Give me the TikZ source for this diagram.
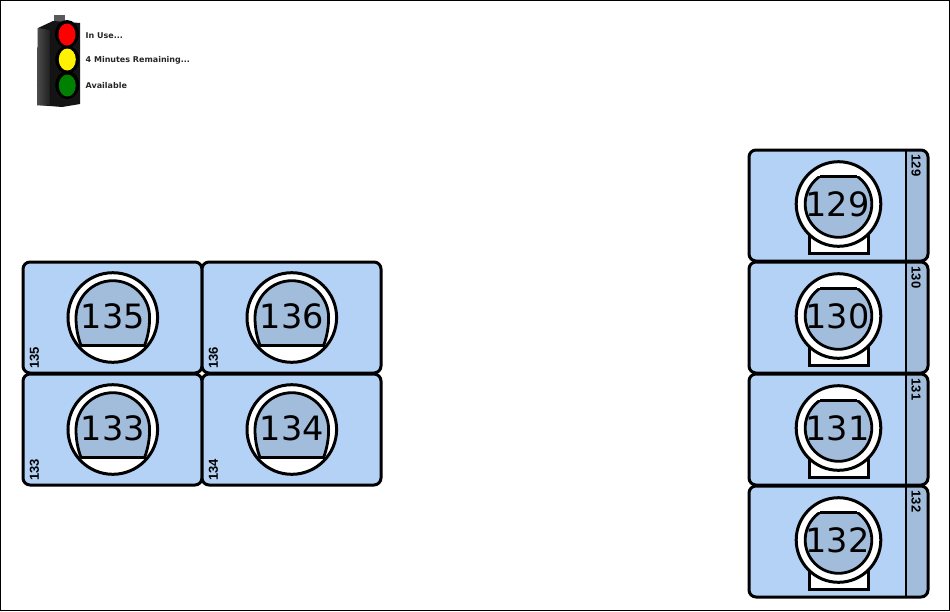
\documentclass[tikz,border=0pt]{standalone}
\usepackage{fontspec}
\setmainfont{DejaVu Sans}
\newfontfamily\smallfont{Liberation Sans}
\definecolor{cardblue}{HTML}{B3D2F6}
\definecolor{seatblue}{HTML}{A2BDDC}
\tikzset{
  x=1pt,y=-1pt,
  card/.style={draw=black,line width=3pt,rounded corners=7pt,fill=cardblue},
  ring/.style={draw=black,line width=3pt,fill=white},
  edgeline/.style={draw=black,line width=2.8pt},
  bignum/.style={inner sep=0pt,font=\fontsize{33.5}{34}\selectfont,text=black},
  sidenum/.style={inner sep=0pt,font=\smallfont\bfseries\fontsize{13}{13}\selectfont,text=black},
  legend/.style={inner sep=0pt,anchor=west,font=\bfseries\fontsize{8}{9}\selectfont,text=black!85},
}
\newcommand{\leftroom}[3]{%
  % #1 number, #2 left, #3 top
  \begin{scope}[shift={(#2,#3)}]
    \draw[card] (0,0) rectangle (179,111);
    \draw[ring] (89.8,55.5) circle (44.8);
    \draw[edgeline,fill=seatblue,line join=round] (58,83.5) .. controls (54.5,74) and (53,65) .. (53,55.5)
      .. controls (53,35.2) and (69.5,18.7) .. (89.8,18.7)
      .. controls (110.1,18.7) and (126.6,35.2) .. (126.6,55.5)
      .. controls (126.6,65) and (125.1,74) .. (121.6,83.5) -- cycle;
    \node[bignum] (big#1) at (89.8,54) {#1};
    \node[sidenum,rotate=90] (side#1) at (11.5,96) {#1};
  \end{scope}}
\newcommand{\rightroom}[2]{%
  % #1 number, #2 top
  \begin{scope}[shift={(749,#2)}]
    \begin{scope}
      \clip[rounded corners=7pt] (0,0) rectangle (179,111);
      \fill[cardblue] (0,0) rectangle (157,111);
      \fill[seatblue] (157,0) rectangle (179,111);
    \end{scope}
    \draw[edgeline] (157,0) -- (157,111);
    \draw[card,fill=none] (0,0) rectangle (179,111);
    \draw[ring] (60.5,80) rectangle (119,103);
    \draw[ring] (89.5,54) circle (42.3);
    \begin{scope}
      \clip (40,26.5) rectangle (140,100);
      \fill[seatblue] (89.5,54) circle (33.3);
      \draw[edgeline] (89.5,54) circle (33.3);
    \end{scope}
    \draw[edgeline] (71,26.5) -- (108,26.5);
    \node[bignum] (big#1) at (88.5,54) {#1};
    \node[sidenum,rotate=-90] (side#1) at (167,15.5) {#1};
  \end{scope}}
\begin{document}
\begin{tikzpicture}
  \useasboundingbox (0,0) rectangle (950,611);
  \draw[black,line width=1.5pt] (0.7,0.7) rectangle (949.3,610.3);
  % traffic light
  \fill[black!65] (53.5,15) rectangle (65,26);
  \fill[black!92] (38,28) -- (53,21) -- (80,23) -- (80,104) -- (62,107) -- (37,105) -- cycle;
  \fill[left color=black!70,right color=black!88] (38,28) -- (50,30) -- (50,105) -- (37,105) -- cycle;
  \fill[black] (67,34) ellipse (12 and 14);
  \fill[black] (67.3,59.5) ellipse (12 and 14);
  \fill[black] (67.3,85) ellipse (12 and 14);
  \fill[red] (67,34.5) ellipse (8.5 and 11);
  \fill[yellow] (67.3,59.5) ellipse (8.5 and 11);
  \fill[green!50!black] (67.3,85.5) ellipse (8.5 and 11);
  \node[legend] (inuse) at (85.5,35.5) {In Use...};
  \node[legend] (remaining) at (85.5,60) {4 Minutes Remaining...};
  \node[legend] (available) at (85.5,86) {Available};
  % rooms
  \leftroom{135}{23}{262}
  \leftroom{136}{202}{262}
  \leftroom{133}{23}{374}
  \leftroom{134}{202}{374}
  \rightroom{129}{150}
  \rightroom{130}{262}
  \rightroom{131}{374}
  \rightroom{132}{486}
\end{tikzpicture}
\end{document}
